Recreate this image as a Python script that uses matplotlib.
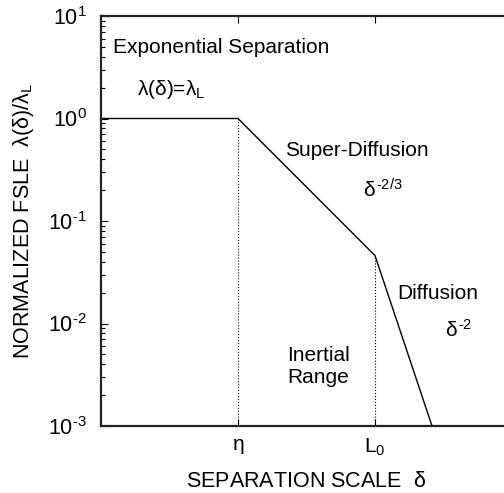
"""Sketch of normalized FSLE vs separation scale: three regimes on log-log axes."""

import matplotlib
matplotlib.use("Agg")
import matplotlib.pyplot as plt
from matplotlib.ticker import NullLocator, FixedLocator

plt.rcParams["font.family"] = ["Liberation Sans", "DejaVu Sans"]
plt.rcParams["mathtext.fontset"] = "custom"
plt.rcParams["mathtext.rm"] = "Liberation Sans"
plt.rcParams["mathtext.it"] = "Liberation Sans"
plt.rcParams["mathtext.bf"] = "Liberation Sans:bold"

# data (eta = 1, L0 = 100, arbitrary units)
DELTA   = [0.01, 1.0, 100.0, 680.0]
LAMBDA  = [1.0, 1.0, 0.046, 0.001]
ETA     = 1.0
L0      = 100.0
X_TICKS = [ETA, L0]
X_LABELS = [r"$\eta$", r"$\mathregular{L_0}$"]
Y_TICKS = [1e-3, 1e-2, 1e-1, 1e0, 1e1]
Y_LABELS = [r"$\mathregular{10^{\text{-3}}}$", r"$\mathregular{10^{\text{-2}}}$",
            r"$\mathregular{10^{\text{-1}}}$", r"$\mathregular{10^{0}}$",
            r"$\mathregular{10^{1}}$"]

FS = 15


def main():
    fig = plt.figure(figsize=(5.04, 4.93), dpi=100)
    # axes run past the right edge of the figure, as in the original
    ax = fig.add_axes([101 / 504, 67 / 493, 411 / 504, 410 / 493])

    ax.plot(DELTA, LAMBDA, color="black", lw=1.0)
    ax.plot([ETA, ETA], [1e-3, LAMBDA[1]], ls=":", color="black", lw=0.8)
    ax.plot([L0, L0], [1e-3, LAMBDA[2]], ls=":", color="black", lw=0.8)

    ax.set_xscale("log"); ax.set_yscale("log")
    ax.set_xlim(1e-2, 1e4); ax.set_ylim(1e-3, 1e1)

    ax.xaxis.set_major_locator(FixedLocator(X_TICKS))
    ax.xaxis.set_minor_locator(NullLocator())
    ax.set_xticklabels(X_LABELS, fontsize=FS)
    ax.yaxis.set_major_locator(FixedLocator(Y_TICKS))
    ax.set_yticklabels(Y_LABELS, fontsize=15.5)

    ax.tick_params(which="both", direction="in", top=True, right=True)
    ax.tick_params(which="major", length=5, width=0.8, pad=8)
    ax.tick_params(axis="y", which="major", pad=10)
    ax.tick_params(which="minor", length=3, width=0.8)
    for s in ax.spines.values():
        s.set_linewidth(1.6); s.set_color("#222222")

    ax.set_xlabel(r"SEPARATION SCALE  $\delta$", fontsize=15.5, labelpad=9)
    ax.set_ylabel(r"NORMALIZED FSLE  $\lambda(\delta)/\lambda_{\mathregular{L}}$",
                  fontsize=15.5, labelpad=9)

    tr = ax.transAxes
    ax.text(0.029, 0.924, "Exponential Separation", transform=tr, fontsize=FS, va="center")
    ax.text(0.088, 0.82, r"$\lambda(\delta)$=$\lambda_{\mathregular{L}}$", transform=tr,
            fontsize=FS, va="center")
    ax.text(0.448, 0.673, "Super-Diffusion", transform=tr, fontsize=FS, va="center")
    ax.text(0.637, 0.576, r"$\delta^{\mathregular{\text{-2/3}}}$", transform=tr, fontsize=FS, va="center")
    ax.text(0.720, 0.324, "Diffusion", transform=tr, fontsize=FS, va="center")
    ax.text(0.837, 0.234, r"$\delta^{\mathregular{\text{-2}}}$", transform=tr, fontsize=FS, va="center")
    ax.text(0.528, 0.146, "Inertial\nRange", transform=tr, fontsize=FS,
            ha="center", va="center", linespacing=1.2)

    fig.savefig("out.png", dpi=100)


if __name__ == "__main__":
    main()
